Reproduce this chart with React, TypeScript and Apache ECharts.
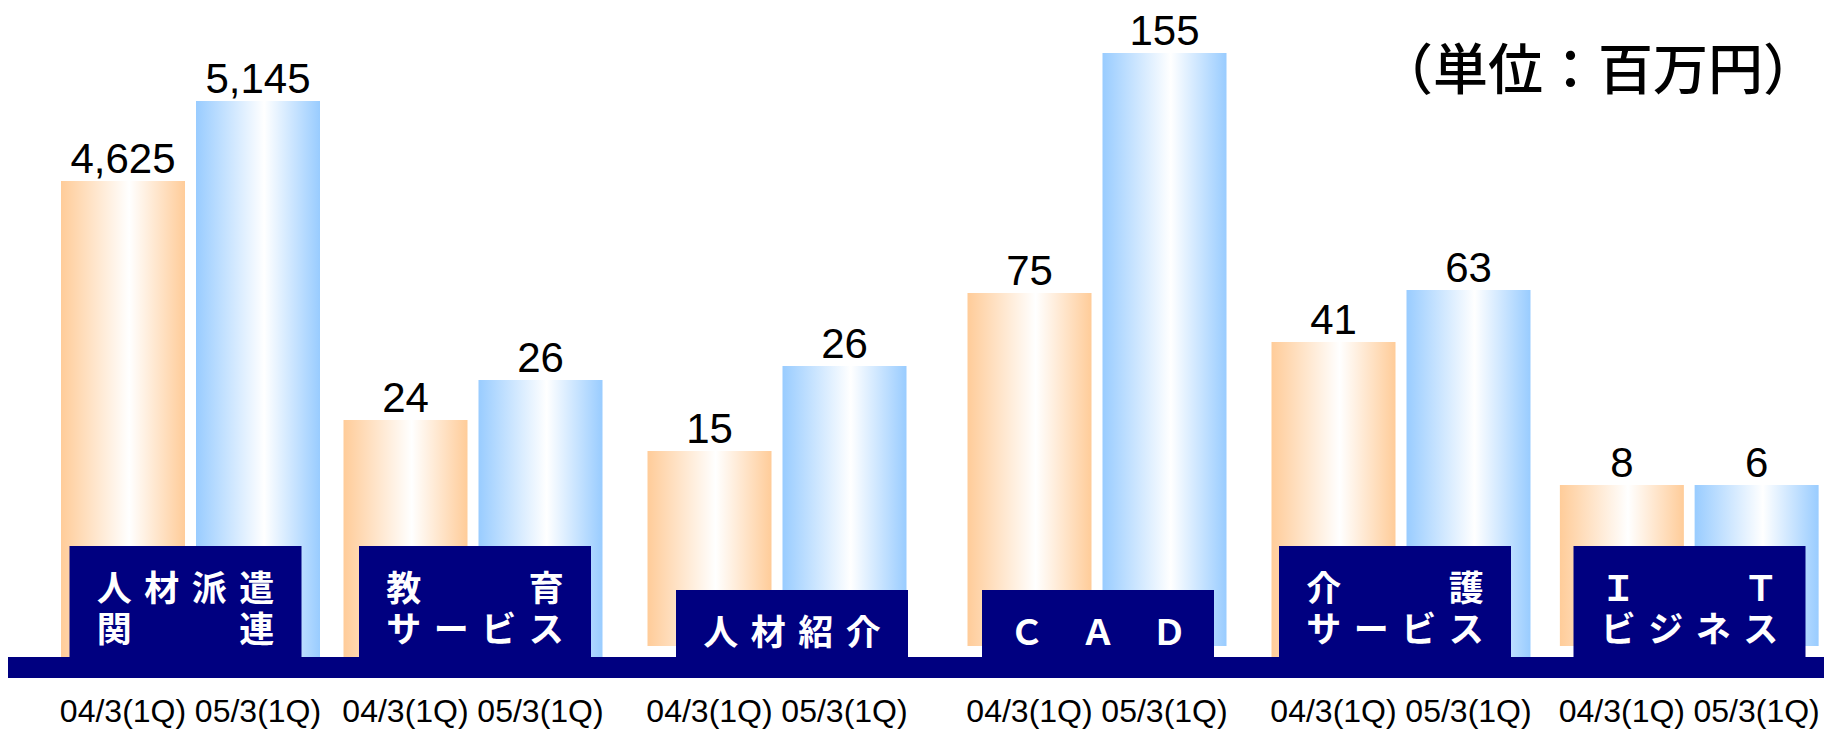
import React, { useEffect, useRef } from 'react';
import * as echarts from 'echarts';

// ---- data ----
const periods = ['04/3(1Q)', '05/3(1Q)'];
const segmentLines = [
  ['人材派遣', '関連'],
  ['教育', 'サービス'],
  ['人材紹介'],
  ['ＣＡＤ'],
  ['介護', 'サービス'],
  ['ＩＴ', 'ビジネス'],
];
const values04 = [4625, 24, 15, 75, 41, 8];
const values05 = [5145, 26, 26, 155, 63, 6];
// Drawn bar heights as they appear in the original (each segment uses its own, non-proportional scale)
const barHeights04 = [476, 237, 195, 353, 315, 161];
const barHeights05 = [556, 277, 280, 593, 367, 161];
const unitLabel = '（単位：百万円）';

// ---- layout ----
const groupCenters = [190.5, 473, 777, 1097, 1401, 1689.5];
const baselines = [657, 657, 646, 646, 657, 646];
const boxCenters = [185.5, 475, 792, 1098, 1395, 1689.5];
const boxTops = [546, 546, 590, 590, 546, 546];
const BAND_Y = 657;
const BAND_H = 21;
const BOX_W = 232;
const PITCH = 135;
const BAR_W = 124;
const SCALE_MAX = 600;
const NAVY = '#000080';
const CHAR_PITCH = 47.5;
const LINE_H = 41;

const grad = (c: string) =>
  new echarts.graphic.LinearGradient(0, 0, 1, 0, [
    { offset: 0, color: c },
    { offset: 0.55, color: '#FFFFFF' },
    { offset: 1, color: c },
  ]);

const fmt = (v: number) => v.toLocaleString('en-US');

// distributed (justified) slot positions for a line of n characters over 4 slots
const slotsFor = (n: number) =>
  Array.from({ length: n }, (_, i) => (n === 1 ? 0 : -1.5 + (i * 3) / (n - 1)));

export default function App() {
  const ref = useRef<HTMLDivElement>(null);
  useEffect(() => {
    if (!ref.current) return;
    const chart = echarts.init(ref.current, undefined, { renderer: 'svg' });
    const grids: any[] = [];
    const xAxes: any[] = [];
    const yAxes: any[] = [];
    const series: any[] = [];
    groupCenters.forEach((c, i) => {
      grids.push({
        left: c - PITCH,
        width: PITCH * 2,
        top: baselines[i] - SCALE_MAX,
        height: SCALE_MAX,
      });
      xAxes.push({
        gridIndex: i,
        type: 'category',
        data: periods,
        axisLine: { show: false },
        axisTick: { show: false },
        axisLabel: {
          interval: 0,
          hideOverlap: false,
          color: '#000',
          fontSize: 32,
          fontFamily: 'Liberation Sans, Arial, sans-serif',
          margin: 711 - baselines[i],
          verticalAlign: 'middle',
        },
      });
      yAxes.push({
        gridIndex: i,
        type: 'value',
        min: 0,
        max: SCALE_MAX,
        show: false,
        splitLine: { show: false },
      });
      series.push({
        type: 'bar',
        xAxisIndex: i,
        yAxisIndex: i,
        barWidth: BAR_W,
        data: [
          { value: barHeights04[i], itemStyle: { color: grad('#FFCC99') } },
          { value: barHeights05[i], itemStyle: { color: grad('#99CCFF') } },
        ],
        label: {
          show: true,
          position: 'top',
          distance: 2,
          color: '#000',
          fontSize: 42,
          fontFamily: 'Liberation Sans, Arial, sans-serif',
          formatter: (p: any) => fmt((p.dataIndex === 0 ? values04 : values05)[i]),
        },
      });
    });

    const graphics: any[] = [
      {
        type: 'rect',
        z: 100,
        shape: { x: 8, y: BAND_Y, width: 1824 - 8, height: BAND_H },
        style: { fill: NAVY },
      },
      {
        type: 'text',
        z: 100,
        x: 1598,
        y: 65,
        style: {
          text: unitLabel,
          fill: '#000',
          font: '500 55px "Noto Sans CJK JP", sans-serif',
          lineHeight: 56,
          align: 'center',
          verticalAlign: 'middle',
        },
      },
    ];
    segmentLines.forEach((lines, i) => {
      const cx = boxCenters[i];
      const top = boxTops[i];
      graphics.push({
        type: 'rect',
        z: 100,
        shape: { x: cx - BOX_W / 2, y: top, width: BOX_W, height: BAND_Y - top + 1 },
        style: { fill: NAVY },
      });
      // build columns: slot position -> characters per line
      const cols = new Map<number, string[]>();
      lines.forEach((line, li) => {
        const chars = Array.from(line);
        const slots = slotsFor(chars.length);
        chars.forEach((ch, ci) => {
          const key = slots[ci];
          if (!cols.has(key)) cols.set(key, lines.map(() => '　'));
          cols.get(key)![li] = ch;
        });
      });
      const midY = lines.length === 2 ? 605.5 : 629;
      cols.forEach((chs, slot) => {
        graphics.push({
          type: 'text',
          z: 101,
          x: cx + slot * CHAR_PITCH,
          y: midY,
          style: {
            text: chs.join('\n'),
            fill: '#FFFFFF',
            font: 'bold 35px "Noto Sans CJK JP", sans-serif',
            lineHeight: LINE_H,
            align: 'center',
            verticalAlign: 'middle',
          },
        });
      });
    });

    chart.setOption({
      animation: false,
      backgroundColor: '#FFFFFF',
      grid: grids,
      xAxis: xAxes,
      yAxis: yAxes,
      series,
      graphic: graphics,
    });
    return () => chart.dispose();
  }, []);
  return (
    <div
      ref={ref}
      style={{ position: 'absolute', left: 0, top: 0, width: 1824, height: 729 }}
    />
  );
}
